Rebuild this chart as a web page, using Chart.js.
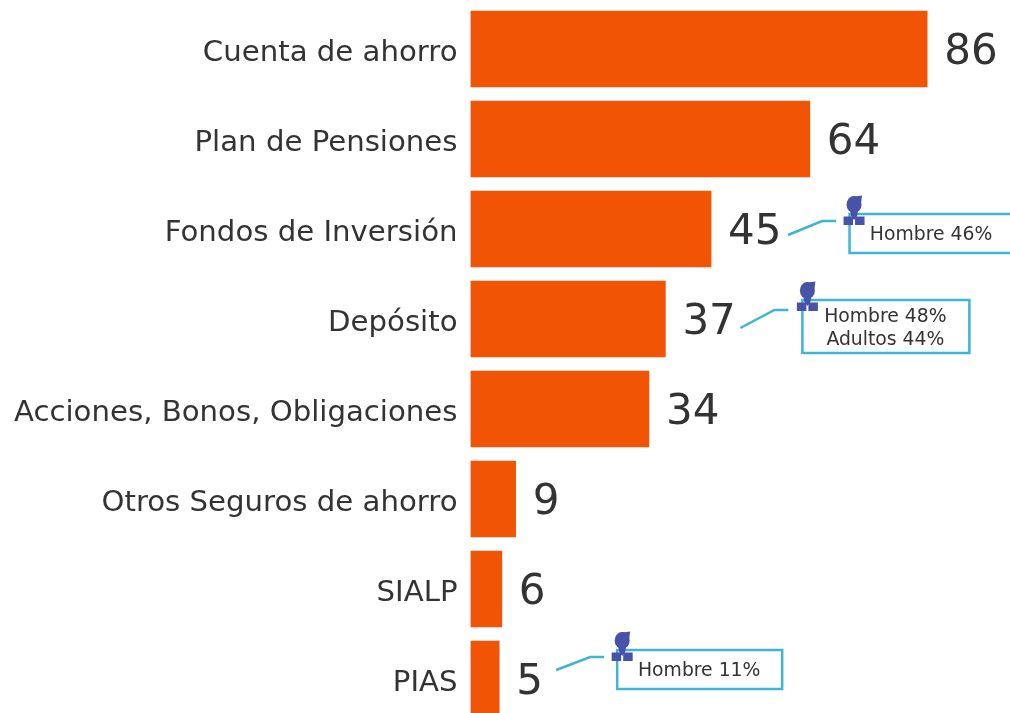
<!DOCTYPE html>
<html><head><meta charset="utf-8">
<style>html,body{margin:0;padding:0;background:#fff;width:1010px;height:713px;overflow:hidden}canvas{display:block}</style>
<script src="https://cdn.jsdelivr.net/npm/chart.js@4"></script></head>
<body><canvas id="c" width="1010" height="733"></canvas>
<script>
const categories = ["Cuenta de ahorro","Plan de Pensiones","Fondos de Inversión","Depósito","Acciones, Bonos, Obligaciones","Otros Seguros de ahorro","SIALP","PIAS"];
const barValues = [86,63.9,45.3,36.7,33.6,8.5,5.9,5.4];
const valueLabels = ["86","64","45","37","34","9","6","5"];
const calloutIndex = [2,3,7];
const calloutTexts = [["Hombre 46%"],["Hombre 48%","Adultos 44%"],["Hombre 11%"]];

const FONT = '"DejaVu Sans", Verdana, sans-serif';
const ORANGE = '#F25405', TEXT = '#333333', TEAL = '#3DB5D3', ICON = '#4753A8';

const layouts = [
  {line:[[77,6],[111,-8],[125,-8]], box:[138.5,-15,200,39], icon:[143,-33], text:[220,6]},
  {line:[[75,9],[109,-9],[123,-9]], box:[137,-19,167,53], icon:[142,-37], text:[220,-2]},
  {line:[[57,-9],[91,-22],[105,-22]], box:[118,-29,165,39], icon:[123,-47], text:[200,-8]}
];

function drawPerson(ctx,x,y){
  ctx.fillStyle = ICON;
  ctx.beginPath(); ctx.ellipse(x,y+8.5,7.5,8.5,0,0,Math.PI*2); ctx.fill();
  ctx.beginPath(); ctx.moveTo(x-3,y+1); ctx.lineTo(x+8,y-0.5); ctx.lineTo(x+7,y+7); ctx.closePath(); ctx.fill();
  ctx.beginPath(); ctx.moveTo(x-4,y+14); ctx.lineTo(x+4,y+14); ctx.lineTo(x+3,y+20); ctx.lineTo(x-3,y+20); ctx.closePath(); ctx.fill();
  ctx.fillRect(x-10.5,y+20.5,9.5,8.5);
  ctx.fillRect(x+1,y+20.5,9.5,8.5);
  ctx.beginPath(); ctx.moveTo(x-3,y+20); ctx.lineTo(x+3,y+20); ctx.lineTo(x,y+24); ctx.closePath(); ctx.fill();
}

const overlay = {
  id:'overlay',
  beforeDraw(chart){
    if (chart.$labelsShifted) return;
    chart.scales.y.getLabelItems(chart.chartArea).forEach(it=>{ it.options.translation[1] += 4; });
    chart.$labelsShifted = true;
  },
  afterDatasetsDraw(chart){
    const ctx = chart.ctx, meta = chart.getDatasetMeta(0);
    ctx.save();
    ctx.fillStyle = TEXT;
    ctx.font = '42px '+FONT;
    ctx.textAlign = 'left'; ctx.textBaseline = 'middle';
    meta.data.forEach((bar,i)=>{ ctx.fillText(valueLabels[i], bar.x+17, bar.y+4); });
    calloutIndex.forEach((idx,k)=>{
      const bar = meta.data[idx], L = layouts[k], bx = bar.x, by = bar.y;
      ctx.strokeStyle = TEAL; ctx.lineWidth = 2.5;
      ctx.beginPath();
      L.line.forEach((p,j)=>{ j ? ctx.lineTo(bx+p[0],by+p[1]) : ctx.moveTo(bx+p[0],by+p[1]); });
      ctx.stroke();
      ctx.strokeRect(bx+L.box[0],by+L.box[1],L.box[2],L.box[3]);
      drawPerson(ctx,bx+L.icon[0],by+L.icon[1]);
      ctx.fillStyle = TEXT; ctx.font = '18.8px '+FONT;
      ctx.textAlign = 'center';
      calloutTexts[k].forEach((t,j)=>{ ctx.fillText(t,bx+L.text[0],by+L.text[1]+j*23); });
      ctx.textAlign = 'left'; ctx.font = '42px '+FONT;
      ctx.fillStyle = TEXT;
    });
    ctx.restore();
  }
};

new Chart(document.getElementById('c'),{
  type:'bar',
  data:{labels:categories,datasets:[{data:barValues,backgroundColor:ORANGE,borderWidth:0,barThickness:76}]},
  plugins:[overlay],
  options:{
    indexAxis:'y',responsive:false,animation:false,
    layout:{padding:{top:4,bottom:9,left:0,right:0}},
    plugins:{legend:{display:false},tooltip:{enabled:false}},
    scales:{
      x:{display:false,min:0,max:101.6},
      y:{
        afterFit(s){s.width=470.5;s.paddingTop=0;s.paddingBottom=0;},
        border:{display:false},
        grid:{display:false,drawTicks:false},
        ticks:{color:TEXT,font:{family:FONT,size:29.2},padding:13,autoSkip:false}
      }
    }
  }
});
</script></body></html>
